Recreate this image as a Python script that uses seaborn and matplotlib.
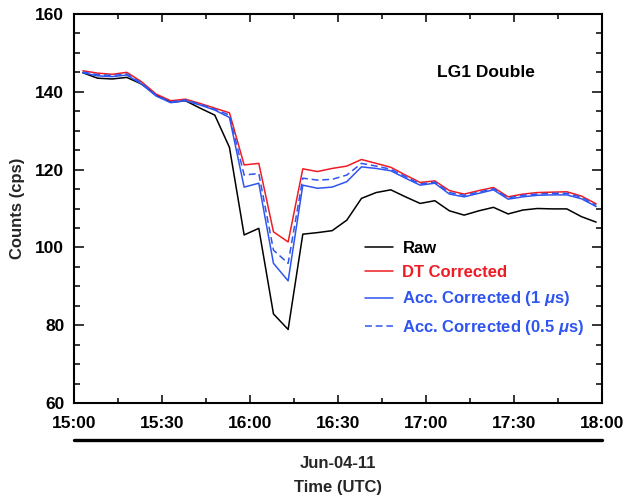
import matplotlib
matplotlib.use("Agg")
import matplotlib.pyplot as plt
import matplotlib.dates as mdates
from matplotlib.lines import Line2D
import pandas as pd
import seaborn as sns

# Sample times (UTC) on 2011-06-04
times = [
    "15:03", "15:08", "15:13", "15:18", "15:23", "15:28", "15:33", "15:38", "15:43",
    "15:48", "15:53", "15:58", "16:03", "16:08", "16:13", "16:18", "16:23", "16:28",
    "16:33", "16:38", "16:43", "16:48", "16:53", "16:58", "17:03", "17:08", "17:13",
    "17:18", "17:23", "17:28", "17:33", "17:38", "17:43", "17:48", "17:53", "17:58",
]

raw = [
    144.9, 143.5, 143.3, 143.7, 142.0, 139.2, 137.3, 137.7, 135.8,
    134.0, 125.7, 103.2, 104.9, 82.9, 78.9, 103.4, 103.8, 104.3,
    107.0, 112.6, 114.1, 114.8, 113.0, 111.3, 112.0, 109.4, 108.3,
    109.4, 110.3, 108.6, 109.6, 110.0, 109.9, 109.9, 107.9, 106.5,
]
dt_corrected = [
    145.4, 144.8, 144.5, 145.0, 142.6, 139.4, 137.7, 138.1, 137.0,
    135.8, 134.6, 121.2, 121.6, 104.0, 101.4, 120.2, 119.5, 120.3,
    120.9, 122.6, 121.6, 120.6, 118.6, 116.7, 117.1, 114.6, 113.7,
    114.6, 115.4, 113.0, 113.7, 114.1, 114.2, 114.3, 113.2, 111.2,
]
acc_1us = [
    144.9, 144.1, 143.9, 144.3, 142.0, 138.9, 137.2, 137.7, 136.6,
    135.3, 133.4, 115.5, 116.5, 95.9, 91.4, 116.0, 115.2, 115.5,
    116.9, 120.7, 120.3, 119.7, 117.8, 116.0, 116.5, 113.7, 113.0,
    113.9, 114.8, 112.4, 113.0, 113.4, 113.5, 113.5, 112.5, 110.5,
]
acc_05us = [
    145.1, 144.4, 144.2, 144.6, 142.3, 139.1, 137.4, 137.9, 136.8,
    135.5, 134.0, 118.6, 119.0, 99.3, 95.9, 117.8, 117.3, 117.5,
    118.6, 121.6, 120.9, 120.1, 118.2, 116.3, 116.8, 114.1, 113.4,
    114.2, 115.1, 112.7, 113.4, 113.7, 113.9, 113.9, 112.9, 110.8,
]

series_labels = ["Raw", "DT Corrected", r"Acc. Corrected (1 $\mu$s)",
                 r"Acc. Corrected (0.5 $\mu$s)"]
y_ticks = [60, 80, 100, 120, 140, 160]
date_label = "Jun-04-11"
x_label = "Time (UTC)"
y_label = "Counts (cps)"
panel_title = "LG1 Double"

RED = "#ee1c25"
BLUE = "#2f55f0"

sns.set_theme(style="ticks")
plt.rcParams["font.family"] = ["Liberation Sans", "DejaVu Sans"]
plt.rcParams["font.weight"] = "bold"
plt.rcParams["mathtext.fontset"] = "custom"
plt.rcParams["mathtext.it"] = "Liberation Sans:italic:bold"
plt.rcParams["mathtext.rm"] = "Liberation Sans:bold"

stamp = pd.to_datetime(["2011-06-04 " + t for t in times])
df = pd.DataFrame({
    "time": stamp,
    "raw": raw,
    "dt": dt_corrected,
    "acc1": acc_1us,
    "acc05": acc_05us,
})

fig = plt.figure(figsize=(6.24, 4.98), dpi=100)
ax = fig.add_axes([74 / 624, 1 - 403 / 498, 528 / 624, 389 / 498])

lw = 1.1
sns.lineplot(data=df, x="time", y="raw", ax=ax, color="black", lw=lw,
             label=series_labels[0])
sns.lineplot(data=df, x="time", y="dt", ax=ax, color=RED, lw=lw,
             label=series_labels[1])
sns.lineplot(data=df, x="time", y="acc1", ax=ax, color=BLUE, lw=lw,
             label=series_labels[2])
sns.lineplot(data=df, x="time", y="acc05", ax=ax, color=BLUE, lw=lw,
             label=series_labels[3], dashes=False)
ax.lines[-1].set_linestyle((0, (4.5, 2.5)))

ax.set_xlim(pd.Timestamp("2011-06-04 15:00"), pd.Timestamp("2011-06-04 18:00"))
ax.set_ylim(60, 160)
ax.set_yticks(y_ticks)
ax.yaxis.set_minor_locator(matplotlib.ticker.MultipleLocator(5))
ax.xaxis.set_major_locator(mdates.MinuteLocator(byminute=[0, 30]))
ax.xaxis.set_minor_locator(mdates.MinuteLocator(byminute=[15, 45]))
ax.xaxis.set_major_formatter(mdates.DateFormatter("%H:%M"))

for side in ax.spines.values():
    side.set_linewidth(1.5)
    side.set_color("black")

ax.tick_params(axis="both", which="both", direction="in", top=True, right=True,
               colors="black", width=1.1, labelsize=12.5)
ax.tick_params(axis="y", which="major", length=7, pad=7)
ax.tick_params(axis="y", which="minor", length=4)
ax.tick_params(axis="x", which="major", length=6, pad=9)
ax.tick_params(axis="x", which="minor", length=3.5)
for lab in ax.get_xticklabels() + ax.get_yticklabels():
    lab.set_fontweight("bold")

ax.set_xlabel("")
ax.set_ylabel(y_label, fontsize=12, fontweight="bold", labelpad=7)

ax.text(0.78, 0.85, panel_title, transform=ax.transAxes, ha="center",
        va="center", fontsize=12.5, fontweight="bold", color="black")

leg = ax.legend(loc="upper left", bbox_to_anchor=(365 / 624, 1 - 241 / 498),
                bbox_transform=fig.transFigure, frameon=False, fontsize=12,
                handlelength=1.7, handletextpad=0.55, labelspacing=0.55,
                borderpad=0, borderaxespad=0)
for txt, col in zip(leg.get_texts(), ["black", RED, BLUE, BLUE]):
    txt.set_color(col)
    txt.set_fontweight("bold")

# date bar under the time axis
fig.add_artist(Line2D([74 / 624, 602 / 624], [1 - 440 / 498, 1 - 440 / 498],
                      transform=fig.transFigure, color="black", lw=2.4))
fig.text(338 / 624, 1 - 463 / 498, date_label, ha="center", va="center",
         fontsize=12, fontweight="bold")
fig.text(338 / 624, 1 - 487 / 498, x_label, ha="center", va="center",
         fontsize=12, fontweight="bold")

fig.savefig("out.png", dpi=100, facecolor="white")
